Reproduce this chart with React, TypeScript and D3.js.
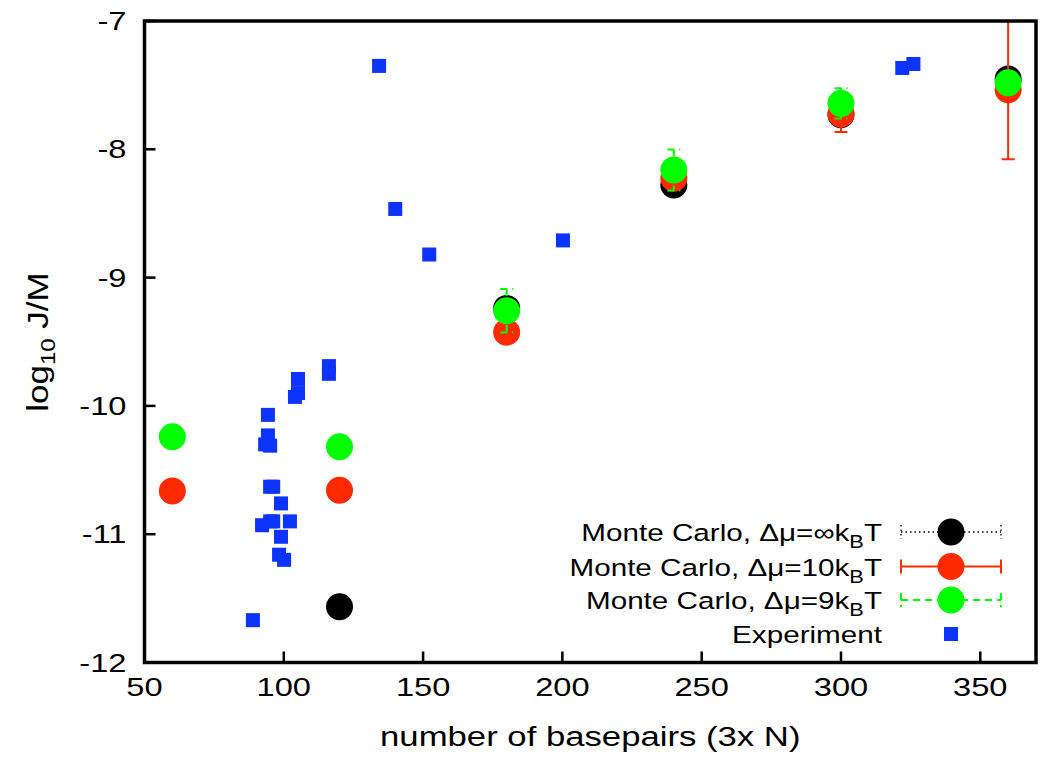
import React from "react";
import * as d3 from "d3";

const W = 1042;
const H = 757;

// Experiment data (basepairs, log10 J/M)
const expX = [88.9, 92.2, 93.3, 94.3, 94.3, 95.1, 95.1, 96.2, 95.1, 96.2, 99.0, 99.0, 98.3, 100.1, 102.2, 104.0, 105.1, 105.1, 116.2, 116.2, 134.2, 140.0, 152.2, 200.2, 322.0, 326.0];
const expY = [-11.67, -10.93, -10.30, -10.07, -10.23, -10.31, -10.63, -10.63, -10.90, -10.90, -10.76, -11.02, -11.16, -11.20, -10.90, -9.93, -9.79, -9.90, -9.69, -9.75, -7.35, -8.465, -8.82, -8.71, -7.366, -7.335];

// Monte Carlo series
const mcInfX = [120, 180, 240, 300, 360];
const mcInfY = [-11.565, -9.24, -8.278, -7.73, -7.452];
const mcInfErr = [0.02, 0.04, 0.04, 0.05, 0.05];

const mc10X = [60, 120, 180, 240, 300, 360];
const mc10Y = [-10.663, -10.658, -9.426, -8.226, -7.725, -7.535];
const mc10Err = [0.02, 0.02, 0.03, 0.06, 0.14, 0.543];

const mc9X = [60, 120, 180, 240, 300, 360];
const mc9Y = [-10.24, -10.318, -9.258, -8.161, -7.642, -7.481];
const mc9Err = [0.02, 0.02, 0.17, 0.16, 0.117, 0.03];

const xTicks = [50, 100, 150, 200, 250, 300, 350];
const yTicks = [-12, -11, -10, -9, -8, -7];

const FONT = "'Liberation Sans', Arial, Helvetica, sans-serif";

const series = [
  { name: "∞", xs: mcInfX, ys: mcInfY, err: mcInfErr, color: "#000000", dash: "1.5,3" },
  { name: "10", xs: mc10X, ys: mc10Y, err: mc10Err, color: "#ff2a00", dash: undefined as string | undefined },
  { name: "9", xs: mc9X, ys: mc9Y, err: mc9Err, color: "#00ff00", dash: "7,5" },
];

export default function App() {
  const x = d3.scaleLinear().domain([50, 370]).range([144.5, 1036]);
  const y = d3.scaleLinear().domain([-12, -7]).range([662.5, 21]);
  const [x0, x1] = x.range();
  const [yb, yt] = y.range();
  const R = 13.5;
  const SQ = 14;
  const cap = 6.5;

  const legendRows = [
    { label: "∞", color: "#000000", dash: "1.5,3", sw: 1.3 },
    { label: "10", color: "#ff2a00", dash: undefined as string | undefined, sw: 2 },
    { label: "9", color: "#00ff00", dash: "7,5", sw: 2 },
  ];
  const legY = [532, 566.5, 600];
  const legTextX = 882;
  const legL = 901;
  const legR = 1001;
  const legC = 951;

  return (
    <svg width={W} height={H} style={{ display: "block", position: "absolute", left: 0, top: 0, background: "#fff" }} fontFamily={FONT}>
      <defs>
        <clipPath id="plotclip">
          <rect x={x0} y={yt} width={x1 - x0} height={yb - yt} />
        </clipPath>
      </defs>
      <rect x={0} y={0} width={W} height={H} fill="#fff" />

      {/* ticks */}
      {xTicks.map((t) => (
        <line key={"xt" + t} x1={x(t)} x2={x(t)} y1={yb} y2={yb - 11} stroke="#000" strokeWidth={2.5} />
      ))}
      {yTicks.map((t) => (
        <line key={"yt" + t} x1={x0} x2={x0 + 11} y1={y(t)} y2={y(t)} stroke="#000" strokeWidth={2.5} />
      ))}

      {/* tick labels */}
      {xTicks.map((t) => (
        <text key={"xl" + t} transform={`translate(${x(t)},${yb + 33}) scale(1.28,1)`} textAnchor="middle" fontSize={25.5} fill="#000">
          {t}
        </text>
      ))}
      {yTicks.map((t) => (
        <text key={"yl" + t} transform={`translate(${x0 - 18},${y(t) + 9}) scale(1.28,1)`} textAnchor="end" fontSize={25.5} fill="#000">
          {t}
        </text>
      ))}

      {/* axis titles */}
      <text transform={`translate(${(x0 + x1) / 2},${746}) scale(1.24,1)`} textAnchor="middle" fontSize={28} fill="#000">
        number of basepairs (3x N)
      </text>
      <text transform={`translate(48,${342}) rotate(-90) scale(1,0.86)`} textAnchor="middle" fontSize={35} fill="#000">
        log<tspan fontSize={24} dy={8}>10</tspan>
        <tspan dy={-8}> J/M</tspan>
      </text>

      {/* data */}
      <g clipPath="url(#plotclip)">
        {series.map((s, si) => (
          <g key={"s" + si}>
            {s.xs.map((xv, i) => {
              const cx = x(xv);
              const top = y(s.ys[i] + s.err[i]);
              const bot = y(s.ys[i] - s.err[i]);
              return (
                <g key={"e" + i} stroke={s.color} strokeWidth={si === 0 ? 1.3 : 2} strokeDasharray={s.dash} fill="none">
                  <line x1={cx} x2={cx} y1={top} y2={bot} />
                  <line x1={cx - cap} x2={cx + cap} y1={top} y2={top} />
                  <line x1={cx - cap} x2={cx + cap} y1={bot} y2={bot} />
                </g>
              );
            })}
            {s.xs.map((xv, i) => (
              <circle key={"c" + i} cx={x(xv)} cy={y(s.ys[i])} r={R} fill={s.color} />
            ))}
          </g>
        ))}
        {expX.map((xv, i) => (
          <rect key={"x" + i} x={x(xv) - SQ / 2} y={y(expY[i]) - SQ / 2} width={SQ} height={SQ} fill="#0c33ff" />
        ))}
      </g>

      {/* legend */}
      {legendRows.map((r, i) => (
        <g key={"lg" + i}>
          <text transform={`translate(${legTextX},${legY[i] + 9}) scale(1.21,1)`} textAnchor="end" fontSize={24.5} fill="#000">
            Monte Carlo, Δμ={r.label}k<tspan fontSize={18} dy={7}>B</tspan>
            <tspan dy={-7}>T</tspan>
          </text>
          <g stroke={r.color} strokeWidth={r.sw} strokeDasharray={r.dash}>
            <line x1={legL} x2={legR} y1={legY[i]} y2={legY[i]} />
            <line x1={legL} x2={legL} y1={legY[i] - 7} y2={legY[i] + 7} />
            <line x1={legR} x2={legR} y1={legY[i] - 7} y2={legY[i] + 7} />
          </g>
          <circle cx={legC} cy={legY[i]} r={R} fill={r.color} />
        </g>
      ))}
      <text transform={`translate(${legTextX},${634 + 9}) scale(1.21,1)`} textAnchor="end" fontSize={24.5} fill="#000">
        Experiment
      </text>
      <rect x={legC - SQ / 2} y={634 - SQ / 2} width={SQ} height={SQ} fill="#0c33ff" />

      {/* frame */}
      <rect x={x0} y={yt} width={x1 - x0} height={yb - yt} fill="none" stroke="#000" strokeWidth={3.5} />
    </svg>
  );
}
